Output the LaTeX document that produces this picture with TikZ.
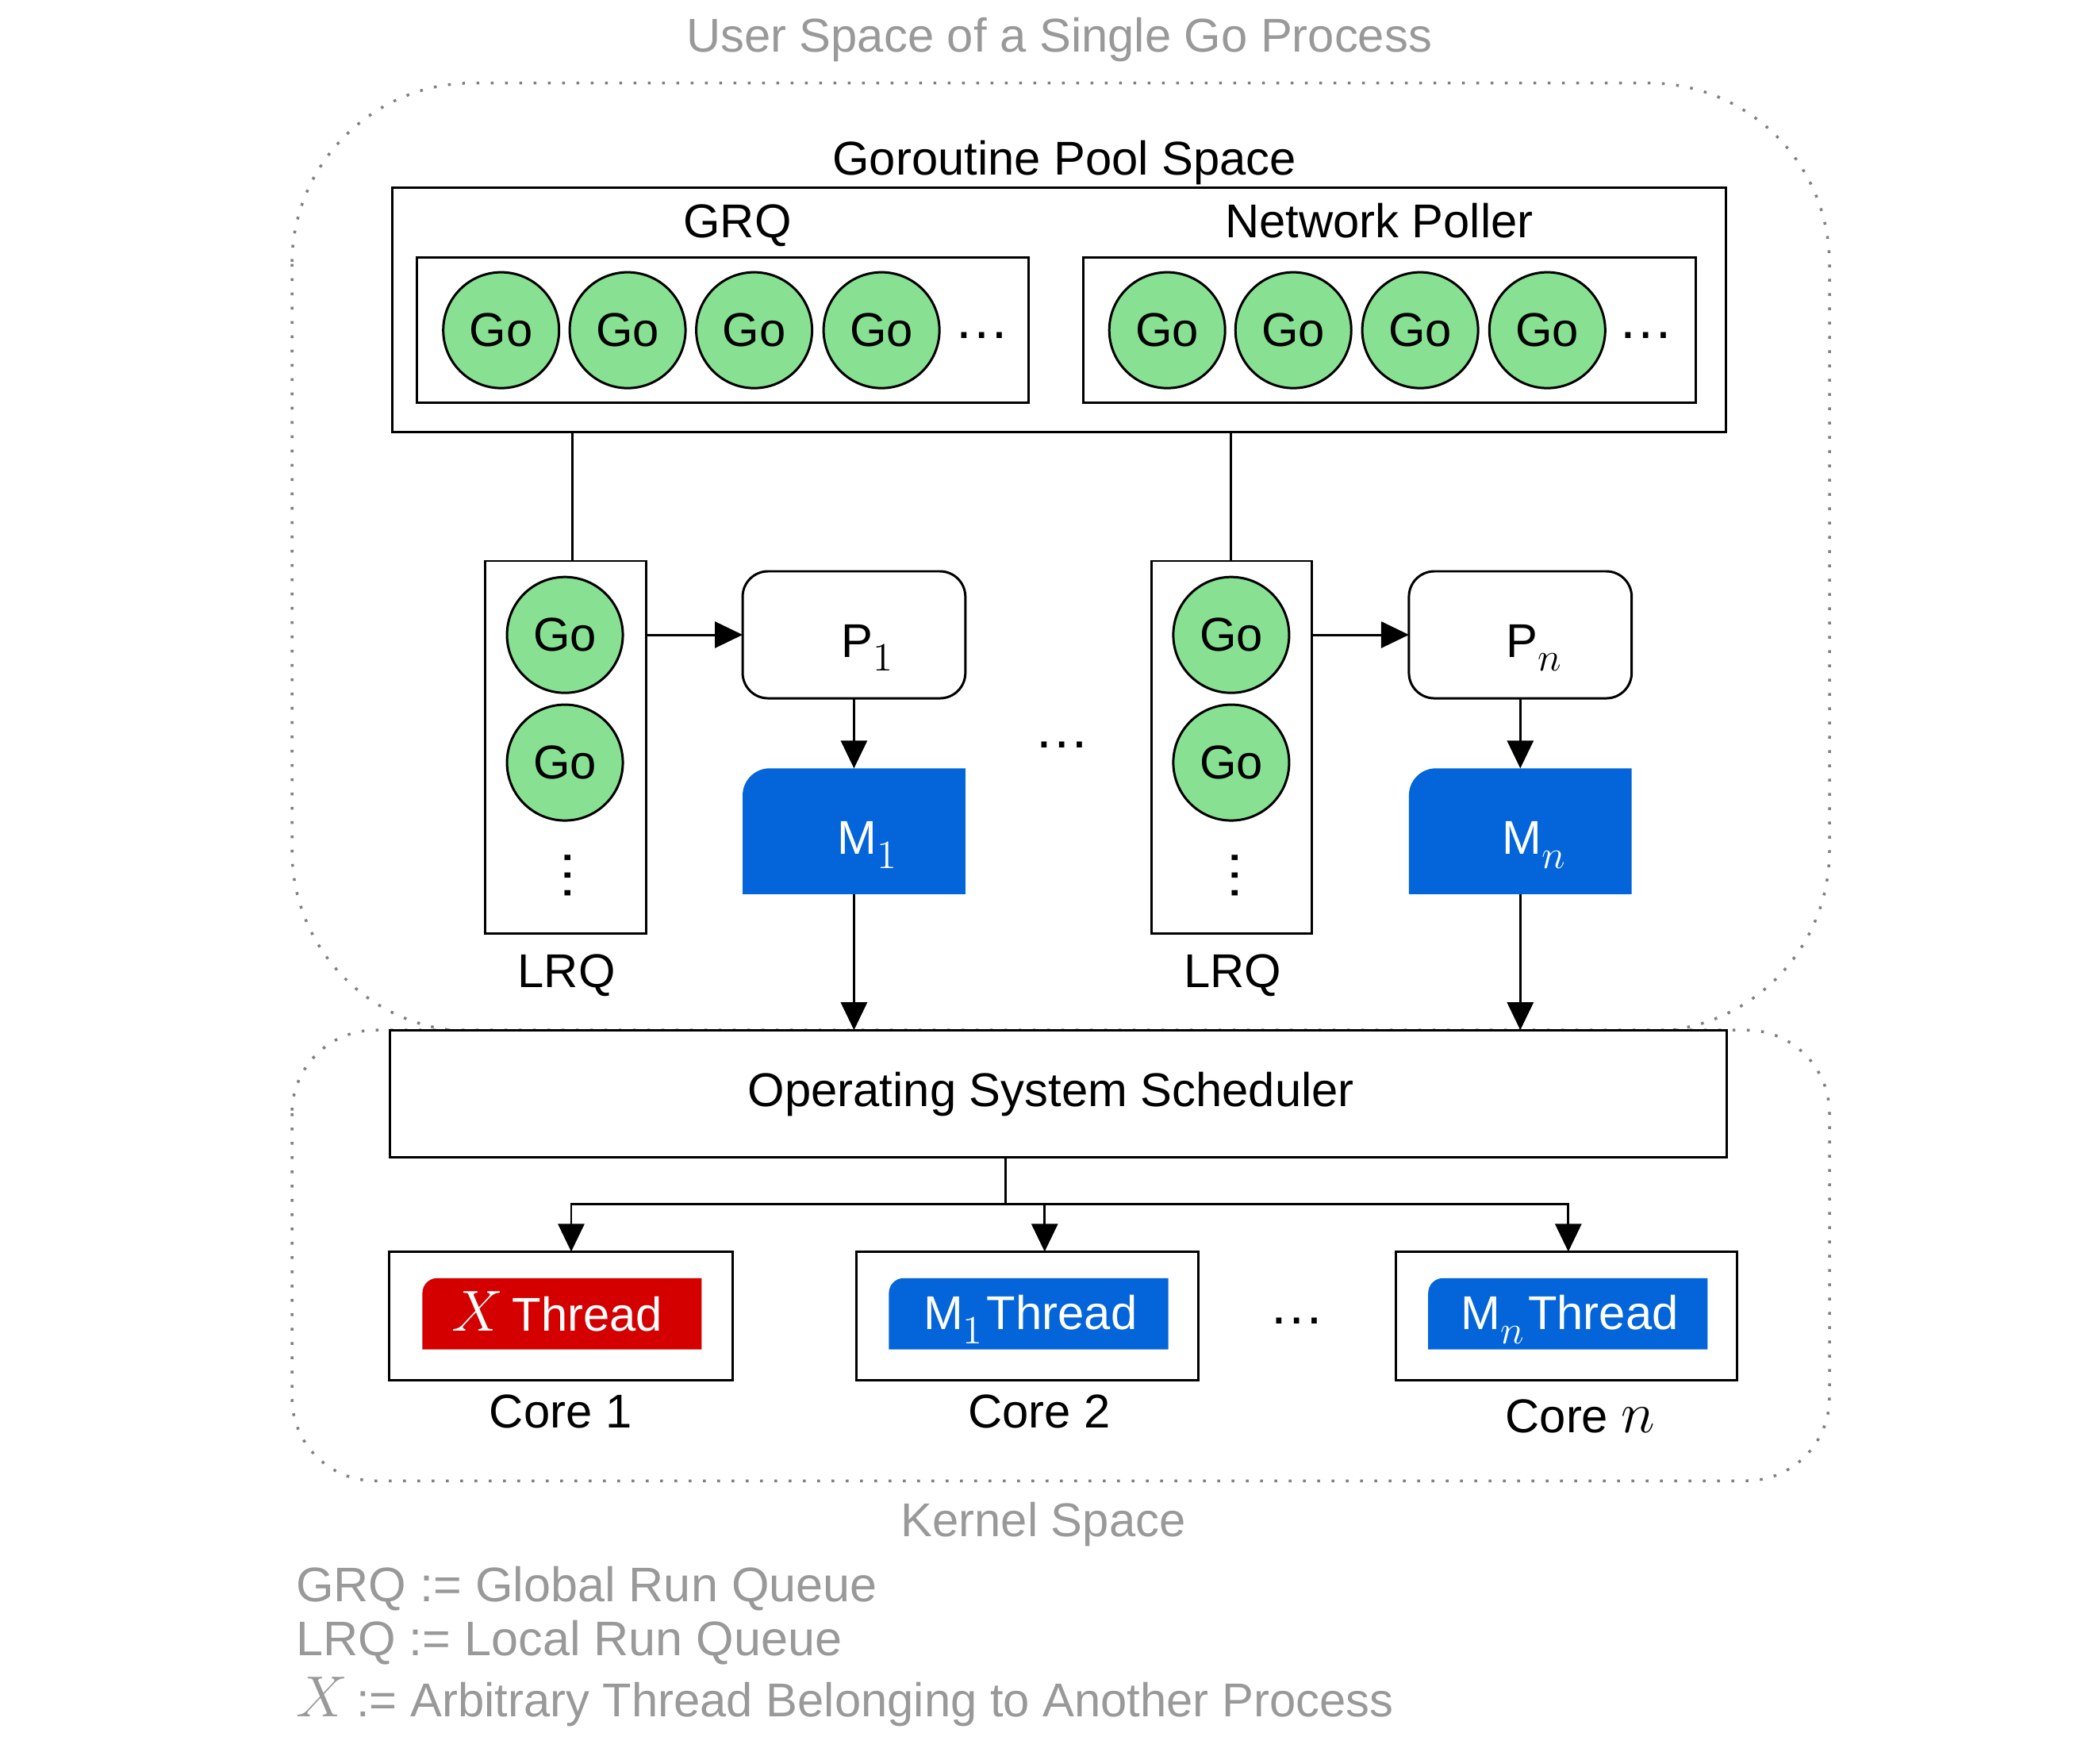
\documentclass[tikz,border=0pt]{standalone}
\usepackage[no-math]{fontspec}
\setmainfont{Liberation Sans}
\usetikzlibrary{arrows.meta}
\definecolor{gogreen}{RGB}{136,225,146}
\definecolor{mblue}{RGB}{3,101,217}
\definecolor{tred}{RGB}{212,0,0}
\definecolor{txtgray}{RGB}{153,153,153}
\definecolor{dotgray}{RGB}{128,128,128}
\def\ux{0.1688mm}
\newcommand\fs{\fontsize{17}{20}\selectfont}
\newcommand\lfs{\fontsize{17.4}{20}\selectfont}
\newcommand\efs{\fontsize{20}{20}\selectfont}
\newcommand\mX{{\fontsize{19.5}{20}\selectfont$X$}}
\newcommand\mn{{\fontsize{21}{21}\selectfont$n$}}
\newcommand\subs[1]{\raisebox{-5.1pt}{\fontsize{14.5}{15}\selectfont$#1$}}
\begin{document}
\begin{tikzpicture}[x=0.1688mm,y=-0.1688mm,
  every node/.style={inner sep=0pt, outer sep=0pt},
  sz/.style 2 args={minimum width=#1*\ux, minimum height=#2*\ux},
  bx/.style={draw, line width=0.85pt, rectangle, fill=white},
  gocirc/.style={circle, draw, line width=0.85pt, fill=gogreen, minimum size=86.5*\ux, font=\fs},
  ln/.style={line width=0.85pt},
  arr/.style={line width=0.85pt, -{Triangle[length=3.5mm,width=3.3mm]}},
  lbl/.style={anchor=base, font=\fs},
  graylbl/.style={anchor=base, font=\fs, text=txtgray},
  ellip/.style={anchor=base, font=\efs},
  spacebox/.style={draw=dotgray, line width=0.35mm, dash pattern=on 0.35mm off 1.45mm}
]
\useasboundingbox (0,0) rectangle (1568,1307.5);
\fill[white] (0,0) rectangle (1568,1307.5);

% dotted spaces
\draw[spacebox, rounded corners=22.8mm] (218,62) rectangle (1366,770);
\draw[spacebox, rounded corners=10.5mm] (218,769) rectangle (1366,1105.5);

% titles
\node[graylbl] (title) at (790.9,38.7) {User Space of a Single Go Process};
\node[lbl] (pooltitle) at (794.8,130.5) {Goroutine Pool Space};

% goroutine pool
\node[bx, sz={995.8}{182.6}] (pool) at (790.6,231.3) {};
\node[lbl] (grqt) at (550.6,177.7) {GRQ};
\node[lbl] (npt) at (1029.7,177.7) {Network Poller};
\node[bx, sz={456.3}{108.8}] (grq) at (539.65,246.5) {};
\node[bx, sz={457.3}{108.8}] (np) at (1037.35,246.5) {};
\foreach \x [count=\i] in {374.2,468.6,563.1,658.2}
  \node[gocirc] (g\i) at (\x,246.5) {Go};
\foreach \x [count=\i] in {871.5,965.7,1060.4,1155.3}
  \node[gocirc] (n\i) at (\x,246.5) {Go};
\node[ellip] (grqdots) at (733,252.5) {…};
\node[ellip] (npdots) at (1229,252.5) {…};

% left column
\node[bx, sz={119.8}{278.2}] (lrq1) at (422.3,557.9) {};
\node[gocirc] (l1a) at (421.8,474) {Go};
\node[gocirc] (l1b) at (421.8,569.3) {Go};
\node[font=\efs, rotate=90] (l1d) at (424.2,653.4) {…};
\node[lbl] (l1t) at (423,737.3) {LRQ};
\node[bx, rounded corners=3.2mm, sz={166.3}{94.8}] (p1) at (637.65,473.9) {};
\node[lbl] (p1t) at (647.6,490.5) {P\subs{1}};
\node[sz={166.3}{93.9}] (m1) at (637.65,620.55) {};
\fill[mblue] (m1.south west) -- ([yshift=-3.4mm]m1.north west)
  arc[start angle=180,end angle=90,radius=3.4mm] -- (m1.north east) -- (m1.south east) -- cycle;
\node[lbl, text=white] (m1t) at (647.5,637.8) {M\subs{1}};

% right column
\node[bx, sz={119.8}{278.2}] (lrq2) at (919.8,557.9) {};
\node[gocirc] (l2a) at (919.3,474) {Go};
\node[gocirc] (l2b) at (919.3,569.3) {Go};
\node[font=\efs, rotate=90] (l2d) at (921.9,653.4) {…};
\node[lbl] (l2t) at (920.5,737.3) {LRQ};
\node[bx, rounded corners=3.2mm, sz={166.3}{94.8}] (p2) at (1135.15,473.9) {};
\node[lbl] (p2t) at (1145.1,490.5) {P\subs{n}};
\node[sz={166.3}{93.9}] (m2) at (1135.15,620.55) {};
\fill[mblue] (m2.south west) -- ([yshift=-3.4mm]m2.north west)
  arc[start angle=180,end angle=90,radius=3.4mm] -- (m2.north east) -- (m2.south east) -- cycle;
\node[lbl, text=white] (m2t) at (1145,637.8) {M\subs{n}};

\node[ellip] (middots) at (793.2,558.5) {…};

% scheduler
\node[bx, sz={998.3}{94.8}] (sched) at (790.35,816.4) {};
\node[lbl] (schedt) at (784.8,826) {Operating System Scheduler};

% connectors top
\coordinate (v1) at (427.1,0);
\coordinate (v2) at (919,0);
\draw[ln] (v1 |- pool.south) -- (v1 |- lrq1.north);
\draw[ln] (v2 |- pool.south) -- (v2 |- lrq2.north);
\draw[arr] (lrq1.east |- p1.west) -- (p1.west);
\draw[arr] (lrq2.east |- p2.west) -- (p2.west);
\draw[arr] (p1.south) -- (m1.north);
\draw[arr] (p2.south) -- (m2.north);
\draw[arr] (m1.south) -- (m1.south |- sched.north);
\draw[arr] (m2.south) -- (m2.south |- sched.north);

% cores
\node[bx, sz={256.3}{96}] (c1) at (418.85,982.4) {};
\node[bx, sz={255.5}{96}] (c2) at (767.25,982.4) {};
\node[bx, sz={254.5}{96}] (c3) at (1169.75,982.4) {};
\node[sz={208.5}{53.2}] (t1) at (419.65,980.8) {};
\node[sz={208.6}{53.2}] (t2) at (768,980.8) {};
\node[sz={208.6}{53.2}] (t3) at (1170.7,980.8) {};
\fill[tred] (t1.south west) -- ([yshift=-1.86mm]t1.north west)
  arc[start angle=180,end angle=90,radius=1.86mm] -- (t1.north east) -- (t1.south east) -- cycle;
\fill[mblue] (t2.south west) -- ([yshift=-1.86mm]t2.north west)
  arc[start angle=180,end angle=90,radius=1.86mm] -- (t2.north east) -- (t2.south east) -- cycle;
\fill[mblue] (t3.south west) -- ([yshift=-1.86mm]t3.north west)
  arc[start angle=180,end angle=90,radius=1.86mm] -- (t3.north east) -- (t3.south east) -- cycle;
\node[lbl, text=white] (t1t) at (416,993.7) {\mX\hspace{-1.5pt} Thread};
\node[lbl, text=white] (t2t) at (769.3,992.5) {M\subs{1}\hspace{1.5pt}Thread};
\node[lbl, text=white] (t3t) at (1172,992.5) {M\subs{n}\hspace{1.5pt}Thread};
\node[ellip] (coredots) at (968.2,988.6) {…};
\node[lbl] (c1t) at (418.6,1066) {Core 1};
\node[lbl] (c2t) at (776,1066) {Core 2};
\node[lbl] (c3t) at (1180,1069.3) {Core \mn};

% scheduler tree
\coordinate (jn) at (750.6,898.8);
\coordinate (b1) at (426.5,898.8);
\coordinate (b2) at (780,898.8);
\coordinate (b3) at (1171,898.8);
\draw[ln] (sched.south -| jn) -- (jn);
\draw[arr] (jn) -- (b1) -- (b1 |- c1.north);
\draw[arr] (jn) -- (b3) -- (b3 |- c3.north);
\draw[arr] (b2) -- (b2 |- c2.north);

% kernel label and legend
\node[graylbl] (kern) at (779,1147) {Kernel Space};
\node[graylbl, anchor=base west, font=\lfs] (leg1) at (221,1195.8) {GRQ := Global Run Queue};
\node[graylbl, anchor=base west, font=\lfs] (leg2) at (221,1235.8) {LRQ := Local Run Queue};
\node[graylbl, anchor=base west, font=\fs] (leg3) at (221,1281.8) {\mX\hspace{-1.5pt} := Arbitrary Thread Belonging to Another Process};
\end{tikzpicture}
\end{document}
